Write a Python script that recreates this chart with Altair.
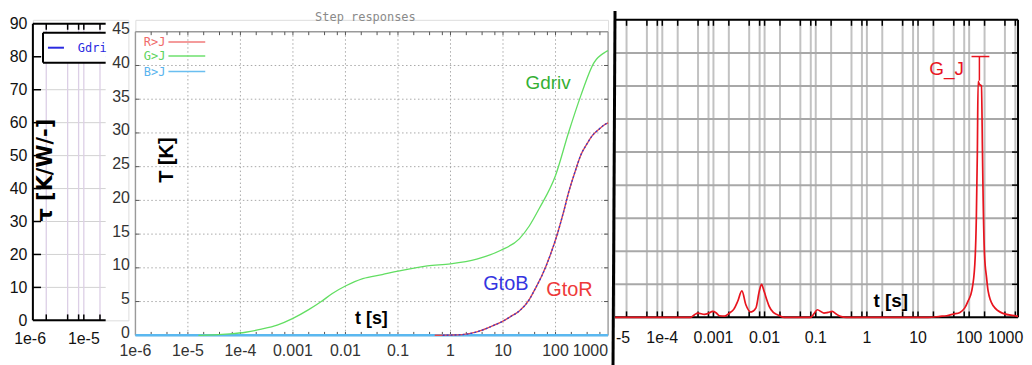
import altair as alt
import pandas as pd

FONT = "Liberation Sans"
MONO = "DejaVu Sans Mono"

# ======================= DATA =======================
# ---- left panel (tau, partly hidden) ----
L_XDOM = [1.127e-6, 6.76e-5]
L_YDOM = [0, 91.21]
L_CUT = 2.55e-5
L_YTICKS = [0, 10, 20, 30, 40, 50, 60, 70, 80, 90]
L_HGRID = [10, 20, 30, 40, 50, 60, 70, 80]
L_VGRID = [2e-6, 5e-6, 8e-6, 1e-5, 2e-5]
L_XLAB_T = [1e-6, 1e-5]
L_XLAB = ["1e-6", "1e-5"]

# ---- middle panel (step responses) : (log10 t, T[K]) ----
M_XDOM = [1e-6, 1000]
M_YDOM = [0, 46.77]
M_YTICKS = [0, 5, 10, 15, 20, 25, 30, 35, 40, 45]
M_HGRID = [5, 10, 15, 20, 25, 30, 35, 40]
M_DECADES = [1e-5, 1e-4, 1e-3, 1e-2, 1e-1, 1, 10, 100]
M_XLAB_T = [1e-6, 1e-5, 1e-4, 1e-3, 1e-2, 1e-1, 1, 10, 100]
M_XLAB = ["1e-6", "1e-5", "1e-4", "0.001", "0.01", "0.1", "1", "10", "100"]
G_LOGT = [-4.8, -4.5, -4.2, -3.9, -3.6, -3.3, -3.0, -2.7, -2.46, -2.25, -2.0, -1.67,
          -1.3, -1.0, -0.44, 0.0, 0.5, 0.96, 1.31, 1.5, 1.69, 2.0, 2.25, 2.48, 2.73, 2.95, 3.0]
G_T = [0.0, 0.05, 0.2, 0.45, 0.9, 1.5, 2.5, 3.8, 5.0, 6.2, 7.3, 8.4,
       9.0, 9.5, 10.3, 10.6, 11.3, 12.6, 14.3, 16.2, 18.8, 23.7, 30.1, 35.5, 40.4, 42.0, 42.2]
R_LOGT = [-0.3, 0.0, 0.22, 0.5, 0.86, 1.0, 1.15, 1.31, 1.5, 1.62, 1.75, 1.9, 2.03,
          2.15, 2.25, 2.37, 2.48, 2.6, 2.7, 2.82, 2.95, 3.0]
R_T = [0.0, 0.03, 0.1, 0.5, 1.6, 2.1, 2.8, 3.6, 5.3, 7.0, 9.0, 11.9, 14.9,
       18.2, 21.2, 24.2, 26.7, 28.4, 29.6, 30.5, 31.3, 31.5]
B_LOGT = [-0.15, 0.22, 0.5, 0.86, 1.0, 1.15, 1.31, 1.5, 1.62, 1.75, 1.9, 2.03,
          2.15, 2.25, 2.37, 2.48, 2.6, 2.7, 2.82, 2.95, 3.0]
B_T = [0.0, 0.1, 0.5, 1.6, 2.1, 2.8, 3.6, 5.3, 7.0, 9.0, 11.9, 14.9,
       18.2, 21.2, 24.2, 26.7, 28.4, 29.6, 30.5, 31.3, 31.5]

# ---- right panel (G_J time-constant spectrum) ----
R_XDOM = [1.19e-5, 902]
R_YDOM = [0, 9]
R_HGRID = [1, 2, 3, 4, 5, 6, 7, 8]
R_XLAB_T = [1e-4, 1e-3, 1e-2, 1e-1, 1, 10, 100]
R_XLAB = ["1e-4", "0.001", "0.01", "0.1", "1", "10", "100"]
J_POINTS = [(-4.924, 0.0), (-3.45, 0.0), (-3.37, 0.08), (-3.305, 0.13), (-3.175, 0.09),
            (-3.1, 0.12), (-3.014, 0.18), (-2.95, 0.14), (-2.883, 0.05), (-2.78, 0.04),
            (-2.689, 0.13), (-2.6, 0.25), (-2.527, 0.48), (-2.444, 0.80), (-2.366, 0.38),
            (-2.268, 0.16), (-2.171, 0.28), (-2.105, 0.78), (-2.06, 1.0), (-2.008, 0.78),
            (-1.95, 0.5), (-1.91, 0.33), (-1.83, 0.15), (-1.749, 0.08), (-1.619, 0.0),
            (-1.101, 0.0), (-1.03, 0.12), (-0.971, 0.23), (-0.84, 0.13), (-0.76, 0.15),
            (-0.679, 0.18), (-0.6, 0.1), (-0.517, 0.03), (-0.4, 0.0), (1.2, 0.0),
            (1.43, 0.03), (1.56, 0.05), (1.69, 0.1), (1.82, 0.15), (1.91, 0.28),
            (1.98, 0.5), (2.05, 0.8), (2.11, 1.6), (2.14, 3.0), (2.16, 5.0),
            (2.175, 7.14), (2.2, 7.05), (2.24, 7.0), (2.26, 5.0), (2.27, 3.9),
            (2.30, 1.9), (2.34, 1.2), (2.37, 0.8), (2.47, 0.35), (2.66, 0.12),
            (2.92, 0.04), (2.955, 0.03)]
J_MARK_T = 158.5
J_MARK_V = [7.16, 7.89]
J_CAP_T = [111, 248]


# ======================= HELPERS =======================
def xsc(dom):
    return alt.Scale(type="log", domain=dom, nice=False)


def ysc(dom):
    return alt.Scale(domain=dom, nice=False, zero=False)


def segs(rows, xs, ys, yax, color, width=1.0, dash=None, xoff=None):
    df = pd.DataFrame(rows, columns=["t", "t2", "v", "v2"])
    kw = dict(color=color, strokeWidth=width)
    if dash:
        kw["strokeDash"] = dash
    if xoff is not None:
        kw["xOffset"] = xoff
    return alt.Chart(df).mark_rule(**kw).encode(
        x=alt.X("t:Q", scale=xs, axis=None), x2="t2:Q",
        y=alt.Y("v:Q", scale=ys, axis=yax), y2="v2:Q")


def curve(ts, vs, xs, ys, yax, color, width=1.3, dash=None):
    df = pd.DataFrame({"t": ts, "v": vs})
    kw = dict(color=color, strokeWidth=width, interpolate="monotone")
    if dash:
        kw["strokeDash"] = dash
    return alt.Chart(df).mark_line(**kw).encode(
        x=alt.X("t:Q", scale=xs, axis=None),
        y=alt.Y("v:Q", scale=ys, axis=yax))


def texts(ts, vs, labels, xs, ys, yax, color, size, font=FONT, weight="normal",
          align="center", angle=0, dx=0):
    df = pd.DataFrame({"t": ts, "v": vs, "lab": labels})
    return alt.Chart(df).mark_text(color=color, fontSize=size, font=font, fontWeight=weight,
                                   align=align, baseline="middle", angle=angle, dx=dx).encode(
        x=alt.X("t:Q", scale=xs, axis=None),
        y=alt.Y("v:Q", scale=ys, axis=yax),
        text="lab:N")


# ======================= LEFT PANEL =======================
lx, ly = xsc(L_XDOM), ysc(L_YDOM)
lax = alt.Axis(values=L_YTICKS, labelFontSize=16, labelColor="#111", labelFont=FONT,
               ticks=False, domain=False, grid=False, labelPadding=6, title=None)
lx0 = L_XDOM[0]
left = alt.layer(
    segs([(lx0, L_CUT, v, v) for v in L_HGRID], lx, ly, lax, "#d2d2d2", 1),
    segs([(t, t, 0, 90) for t in L_VGRID], lx, ly, lax, "#dccfe6", 1.3),
    segs([(lx0, lx0, 0, 90), (lx0, L_CUT, 90, 90), (lx0, L_CUT, 0, 0)], lx, ly, lax, "#000", 2),
    segs([(t, t, 90, 88.2) for t in L_VGRID] + [(t, t, 0, 1.8) for t in L_VGRID]
         + [(lx0, 1.6e-6, v, v) for v in L_HGRID], lx, ly, lax, "#000", 1.5),
    alt.Chart(pd.DataFrame({"t": [1.74e-6], "t2": [L_CUT], "v": [78.22], "v2": [87.28]}))
    .mark_rect(color="white").encode(x=alt.X("t:Q", scale=lx, axis=None), x2="t2:Q",
                                     y=alt.Y("v:Q", scale=ly, axis=lax), y2="v2:Q"),
    segs([(1.74e-6, L_CUT, 87.28, 87.28), (1.74e-6, L_CUT, 78.22, 78.22),
          (1.74e-6, 1.74e-6, 78.22, 87.28)], lx, ly, lax, "#000", 2),
    segs([(2.15e-6, 4.27e-6, 82.75, 82.75)], lx, ly, lax, "#2a2ae0", 2),
    texts([7.74e-6], [82.75], ["Gdri"], lx, ly, lax, "#2a2ae0", 12, font=MONO, align="left"),
    texts([2.02e-6], [45.6], ["τ [K/W/-]"], lx, ly, lax, "#000", 21, font="DejaVu Sans",
          weight="bold", angle=270),
    texts(L_XLAB_T, [-5.74, -5.74], L_XLAB, lx, ly, lax, "#111", 16),
).properties(width=96, height=302)

# ======================= MIDDLE PANEL =======================
mx, my = xsc(M_XDOM), ysc(M_YDOM)
max_ = alt.Axis(values=M_YTICKS, labelFontSize=16, labelColor="#333", labelFont=FONT,
                ticks=False, domain=False, grid=False, labelPadding=6, labelOffset=-3,
                title=None)
M_MINOR = [m * 10.0 ** e for e in range(-6, 3) for m in (2, 4, 7)] + M_DECADES
m_lab_v = [-2.36] * len(M_XLAB_T)
middle = alt.layer(
    segs([(t, t, 0, 45) for t in M_DECADES], mx, my, max_, "#a8a8a8", 1, dash=[1.5, 2.5]),
    segs([(1e-6, 1000, v, v) for v in M_HGRID], mx, my, max_, "#a8a8a8", 1, dash=[1.5, 2.5]),
    segs([(1e-6, 1e-6, 0, 45), (1000, 1000, 0, 45), (1e-6, 1000, 45, 45), (1e-6, 1000, 0, 0)],
         mx, my, max_, "#9a9a9a", 1.3),
    segs([(t, t, 0, 0.5) for t in M_MINOR] + [(t, t, 45, 44.5) for t in M_MINOR]
         + [(1e-6, 1.19e-6, v, v) for v in M_HGRID] + [(839, 1000, v, v) for v in M_HGRID],
         mx, my, max_, "#555", 1),
    curve([1e-6, 1000], [0, 0], mx, my, max_, "#5ab8f0", 2.5),
    curve([10 ** e for e in G_LOGT], G_T, mx, my, max_, "#62de62", 1.3),
    curve([10 ** e for e in R_LOGT], R_T, mx, my, max_, "#e84848", 1.4),
    curve([10 ** e for e in B_LOGT], B_T, mx, my, max_, "#3a3ad0", 1.3, dash=[2, 2]),
    texts([71.9], [37.47], ["Gdriv"], mx, my, max_, "#34b034", 19),
    texts([11.3], [7.67], ["GtoB"], mx, my, max_, "#3535e0", 20),
    texts([184], [6.64], ["GtoR"], mx, my, max_, "#ee3a3a", 20),
    texts([4.07e-6], [25.97], ["T [K]"], mx, my, max_, "#000", 20, weight="bold", angle=270),
    texts([0.0312], [2.36], ["t [s]"], mx, my, max_, "#000", 18, weight="bold"),
    texts([0.024], [47.21], ["Step responses"], mx, my, max_, "#8a8a8a", 12, font=MONO),
    texts([1.45e-6], [43.48], ["R>J"], mx, my, max_, "#f06a6a", 12, font=MONO, align="left"),
    texts([1.45e-6], [41.41], ["G>J"], mx, my, max_, "#5ed45e", 12, font=MONO, align="left"),
    texts([1.45e-6], [39.10], ["B>J"], mx, my, max_, "#5ab4ee", 12, font=MONO, align="left"),
    segs([(4.26e-6, 2.14e-5, 43.48, 43.48)], mx, my, max_, "#f07a7a", 1.5),
    segs([(4.26e-6, 2.14e-5, 41.41, 41.41)], mx, my, max_, "#6ee06e", 1.5),
    segs([(4.26e-6, 2.14e-5, 39.10, 39.10)], mx, my, max_, "#6abef0", 1.5),
    texts(M_XLAB_T, m_lab_v, M_XLAB, mx, my, max_, "#333", 16),
    texts([1000], [-2.36], ["1000"], mx, my, max_, "#333", 16, align="right"),
).properties(width=475, height=317)

# ======================= RIGHT PANEL =======================
rx, ry = xsc(R_XDOM), ysc(R_YDOM)
R_VGRID = [m * 10.0 ** e for e in range(-5, 3) for m in (1, 2, 5, 8)
           if R_XDOM[0] <= m * 10.0 ** e <= R_XDOM[1]]
rx0, rx1 = R_XDOM
r_lab_v = [-0.632] * len(R_XLAB_T)
right = alt.layer(
    segs([(t, t, 0, 9) for t in R_VGRID], rx, ry, None, "#c2c2c2", 2),
    segs([(rx0, rx1, v, v) for v in R_HGRID], rx, ry, None, "#a8a8a8", 2),
    segs([(rx0, rx1, 9, 9), (rx0, rx1, 0, 0), (rx1, rx1, 0, 9)], rx, ry, None, "#000", 2),
    segs([(t, t, 9, 8.82) for t in R_VGRID] + [(t, t, 0, 0.18) for t in R_VGRID]
         + [(689, rx1, v, v) for v in R_HGRID], rx, ry, None, "#000", 1.5),
    segs([(rx0, rx0, -1.48, 9.27)], rx, ry, None, "#000", 3, xoff=-2),
    curve([10 ** p[0] for p in J_POINTS], [p[1] for p in J_POINTS], rx, ry, None, "#e8141e", 1.7),
    segs([(J_MARK_T, J_MARK_T, J_MARK_V[0], J_MARK_V[1]),
          (J_CAP_T[0], J_CAP_T[1], J_MARK_V[1], J_MARK_V[1])], rx, ry, None, "#e8141e", 1.5),
    texts([36.1], [7.5], ["G_J"], rx, ry, None, "#e8141e", 19),
    texts([2.94], [0.48], ["t [s]"], rx, ry, None, "#000", 19, weight="bold"),
    texts(R_XLAB_T, r_lab_v, R_XLAB, rx, ry, None, "#111", 16),
    texts([1000], [-0.632], ["1000"], rx, ry, None, "#111", 16, align="right", dx=3),
    texts([rx0], [-0.632], ["-5"], rx, ry, None, "#111", 16, align="left", dx=1),
).properties(width=405, height=299)

chart = alt.hconcat(left, middle, right, spacing=7, bounds="flush").properties(
    padding=0
).configure_view(stroke=None).configure(font=FONT)

chart.save("out.html", embed_options={"renderer": "svg", "actions": False})
